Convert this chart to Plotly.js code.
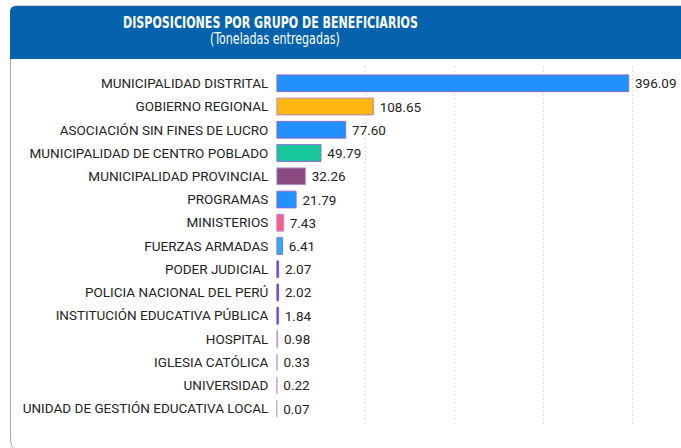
<!DOCTYPE html>
<html>
<head>
<meta charset="utf-8">
<script src="https://cdn.plot.ly/plotly-3.0.1.min.js"></script>
<style>
html,body{margin:0;padding:0;background:#fff;}
#chart{width:681px;height:448px;}
</style>
</head>
<body>
<div id="chart"></div>
<script>
var categories = [
  "MUNICIPALIDAD DISTRITAL",
  "GOBIERNO REGIONAL",
  "ASOCIACIÓN SIN FINES DE LUCRO",
  "MUNICIPALIDAD DE CENTRO POBLADO",
  "MUNICIPALIDAD PROVINCIAL",
  "PROGRAMAS",
  "MINISTERIOS",
  "FUERZAS ARMADAS",
  "PODER JUDICIAL",
  "POLICIA NACIONAL DEL PERÚ",
  "INSTITUCIÓN EDUCATIVA PÚBLICA",
  "HOSPITAL",
  "IGLESIA CATÓLICA",
  "UNIVERSIDAD",
  "UNIDAD DE GESTIÓN EDUCATIVA LOCAL"
];
var toneladas = [396.09, 108.65, 77.60, 49.79, 32.26, 21.79, 7.43, 6.41, 2.07, 2.02, 1.84, 0.98, 0.33, 0.22, 0.07];
var barColors = ["#2391FB", "#FFB80F", "#2391FB", "#18C79C", "#8A4A80", "#2391FB", "#FF5C8C", "#2AAEF5",
                 "#7E4FC6", "#7E4FC6", "#7E4FC6", "#B79AD8", "#B79AD8", "#C890CF", "#B79AD8"];
var lineColors = ["#8E6BD0", "#B87FB6", "#8E6BD0", "#8E6BD0", "#B48FD0", "#8E6BD0", "#B07AD0", "#8E6BD0",
                  "#7E4FC6", "#7E4FC6", "#7E4FC6", "#B79AD8", "#B79AD8", "#C890CF", "#B79AD8"];
var titleText = "DISPOSICIONES POR GRUPO DE BENEFICIARIOS";
var subtitleText = "(Toneladas entregadas)";

var W = 681, H = 448;
function px(x){ return x / W; }
function py(y){ return 1 - y / H; }

var trace = {
  type: "bar",
  orientation: "h",
  y: categories,
  x: toneladas,
  marker: {color: barColors, line: {color: lineColors, width: 1}},
  texttemplate: "\u00a0%{x:.2f}",
  textposition: "outside",
  cliponaxis: false,
  textfont: {family: "Roboto, 'DejaVu Sans', sans-serif", size: 13.5, color: "#252423"},
  hoverinfo: "none"
};

var r = 6;
var cardPath = "M " + px(10.5) + "," + py(436) + " L " + px(10.5) + "," + py(6 + r) +
  " Q " + px(10.5) + "," + py(6) + " " + px(10.5 + r) + "," + py(6) +
  " L 1.05," + py(6);
var cardBottom = "M " + px(10.5) + "," + py(436) + " Q " + px(10.5) + "," + py(447) + " " + px(14) + "," + py(448.5);
var headerPath = "M " + px(10) + "," + py(59) + " L " + px(10) + "," + py(6 + r) +
  " Q " + px(10) + "," + py(6) + " " + px(10 + r) + "," + py(6) +
  " L 1.05," + py(6) + " L 1.05," + py(59) + " Z";

var layout = {
  width: W, height: H,
  margin: {l: 0, r: 0, t: 0, b: 0},
  paper_bgcolor: "#ffffff",
  plot_bgcolor: "rgba(0,0,0,0)",
  showlegend: false,
  font: {family: "Roboto, 'DejaVu Sans', sans-serif", color: "#252423"},
  title: {
    text: "<b>" + titleText + "</b>",
    x: px(270.5), xanchor: "center",
    y: py(28), yanchor: "bottom", yref: "paper",
    font: {family: "'DejaVu Sans Condensed', 'Liberation Sans Narrow', sans-serif", size: 16.5, color: "#ffffff"}
  },
  annotations: [{
    text: subtitleText,
    xref: "paper", yref: "paper",
    x: px(275), y: py(38.5), xanchor: "center", yanchor: "middle",
    showarrow: false,
    font: {family: "'DejaVu Sans Condensed', 'Liberation Sans Narrow', sans-serif", size: 15, color: "#ffffff"}
  }],
  xaxis: {
    domain: [px(276.3), 1],
    range: [-0.5, 455],
    showgrid: true, gridcolor: "#C9C9C9", griddash: "1px,3px", gridwidth: 1,
    tick0: 0, dtick: 100,
    zeroline: false,
    showticklabels: false, ticks: "",
    showline: false
  },
  yaxis: {
    domain: [py(425), py(67)],
    type: "category",
    categoryorder: "array", categoryarray: categories,
    range: [14.7, -0.7],
    showgrid: false, zeroline: false, showline: false,
    ticks: "", ticklabelstandoff: 7,
    tickfont: {family: "Roboto, 'DejaVu Sans', sans-serif", size: 13.5, color: "#252423"}
  },
  bargap: 0.28,
  shapes: [
    {type: "path", xref: "paper", yref: "paper", path: cardPath, line: {color: "#A8A8A8", width: 1}, layer: "below"},
    {type: "path", xref: "paper", yref: "paper", path: cardBottom, line: {color: "#A8A8A8", width: 1}, layer: "below"},
    {type: "path", xref: "paper", yref: "paper", path: headerPath, fillcolor: "#0562AC", line: {width: 0}, layer: "below"}
  ]
};

function squeeze(el, targetWidth) {
  if (!el) return;
  var bb = el.getBBox();
  if (!bb || !bb.width) return;
  var s = targetWidth / bb.width;
  var cx = bb.x + bb.width / 2;
  var prev = el.getAttribute("transform") || "";
  el.setAttribute("transform", "translate(" + cx + ",0) scale(" + s + ",1) translate(" + (-cx) + ",0) " + prev);
}

Plotly.newPlot("chart", [trace], layout, {displayModeBar: false, staticPlot: true}).then(function(gd){
  squeeze(gd.querySelector(".g-gtitle text"), 295);
  squeeze(gd.querySelector(".annotation-text-g text"), 130);
});
</script>
</body>
</html>
